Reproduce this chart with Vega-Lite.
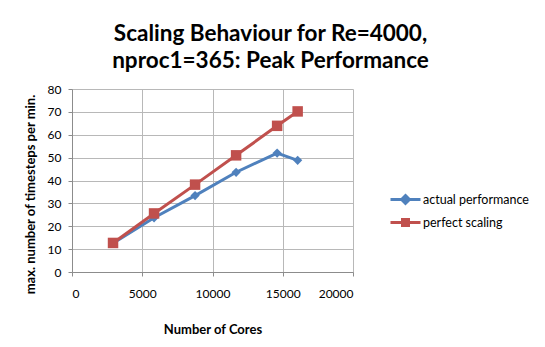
{
  "$schema": "https://vega.github.io/schema/vega-lite/v6.json",
  "autosize": {"type": "none"},
  "width": 281,
  "height": 183,
  "padding": {"left": 72, "top": 89, "right": 192, "bottom": 75},
  "background": "white",
  "title": {
    "text": ["Scaling Behaviour for Re=4000,", "nproc1=365: Peak Performance"],
    "font": "Lato",
    "fontSize": 22.5,
    "fontWeight": "bold",
    "color": "#000000",
    "anchor": "middle",
    "frame": "group",
    "dx": 58,
    "offset": 11,
    "lineHeight": 27
  },
  "data": {
    "values": [
      {"cores": 2920, "value": 12.6, "series": "actual performance"},
      {"cores": 5840, "value": 23.7, "series": "actual performance"},
      {"cores": 8760, "value": 33.4, "series": "actual performance"},
      {"cores": 11680, "value": 43.6, "series": "actual performance"},
      {"cores": 14600, "value": 52.0, "series": "actual performance"},
      {"cores": 16060, "value": 48.8, "series": "actual performance"},
      {"cores": 2920, "value": 12.7, "series": "perfect scaling"},
      {"cores": 5840, "value": 25.6, "series": "perfect scaling"},
      {"cores": 8760, "value": 38.2, "series": "perfect scaling"},
      {"cores": 11680, "value": 51.0, "series": "perfect scaling"},
      {"cores": 14600, "value": 63.9, "series": "perfect scaling"},
      {"cores": 16060, "value": 70.2, "series": "perfect scaling"}
    ]
  },
  "encoding": {
    "x": {
      "field": "cores", "type": "quantitative",
      "scale": {"domain": [0, 20000], "nice": false},
      "axis": {"values": [0, 5000, 10000, 15000, 20000], "format": "d", "title": "Number of Cores", "labelPadding": 12, "titlePadding": 24}
    },
    "y": {
      "field": "value", "type": "quantitative",
      "scale": {"domain": [0, 80], "nice": false},
      "axis": {"values": [0, 10, 20, 30, 40, 50, 60, 70, 80], "title": "max. number of timesteps per min.", "labelPadding": 7, "titleX": -42, "titleY": 105, "titleBaseline": "middle", "titleAlign": "center", "titleAngle": 270}
    },
    "color": {
      "field": "series", "type": "nominal",
      "scale": {"domain": ["actual performance", "perfect scaling"], "range": ["#4F81BD", "#C0504D"]},
      "legend": {
        "title": null,
        "orient": "none",
        "legendX": 327,
        "legendY": 104,
        "rowPadding": 3,
        "symbolSize": 100,
        "symbolStrokeWidth": 3,
        "labelFont": "Lato",
        "labelFontSize": 12.5,
        "labelColor": "#000000",
        "labelOffset": 11,
        "encode": {
          "symbols": {
            "update": {
              "shape": {"signal": "datum.value === 'actual performance' ? 'M-3,0L3,0M0,-0.78L0.78,0L0,0.78L-0.78,0Z' : 'M-3,0L3,0M-0.6,-0.6L0.6,-0.6L0.6,0.6L-0.6,0.6Z'"},
              "size": {"value": 100},
              "fill": {"signal": "datum.value === 'actual performance' ? '#4F81BD' : '#C0504D'"},
              "stroke": {"signal": "datum.value === 'actual performance' ? '#4F81BD' : '#C0504D'"},
              "strokeWidth": {"value": 3},
              "opacity": {"value": 1}
            }
          }
        }
      }
    }
  },
  "layer": [
    {"mark": {"type": "line", "strokeWidth": 3}},
    {
      "transform": [{"filter": "datum.series === 'actual performance'"}],
      "mark": {"type": "point", "filled": true, "opacity": 1, "size": 85, "shape": "diamond"}
    },
    {
      "transform": [{"filter": "datum.series === 'perfect scaling'"}],
      "mark": {"type": "point", "filled": true, "opacity": 1, "size": 110, "shape": "square"}
    }
  ],
  "config": {
    "view": {"stroke": null},
    "axis": {
      "labelFont": "Lato",
      "labelFontSize": 12,
      "labelColor": "#000000",
      "titleFont": "Lato",
      "titleFontSize": 13,
      "titleFontWeight": "bold",
      "titleColor": "#000000",
      "gridColor": "#b8b8b8",
      "gridWidth": 1,
      "domainColor": "#8c8c8c",
      "tickColor": "#8c8c8c",
      "tickSize": 4
    }
  }
}
